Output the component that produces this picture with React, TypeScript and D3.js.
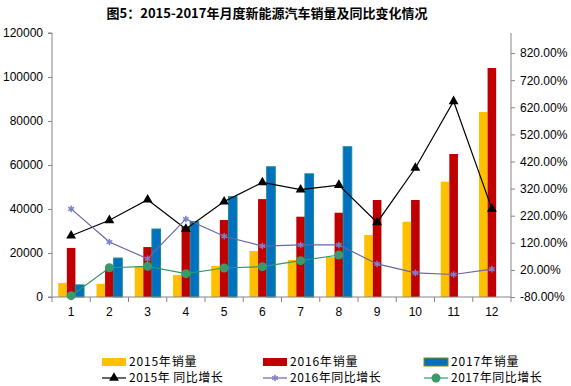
import React, { useEffect, useRef } from "react";
import * as d3 from "d3";

// monthly sales (vehicles)
const months = ["1", "2", "3", "4", "5", "6", "7", "8", "9", "10", "11", "12"];
const sales2015 = [6400, 6000, 14100, 10000, 14100, 20900, 16800, 18200, 28200, 34200, 52400, 84100];
const sales2016 = [22300, 14000, 22700, 32000, 35000, 44500, 36500, 38300, 44100, 44100, 65000, 104100];
const sales2017 = [5500, 17700, 30900, 34200, 45600, 59200, 56000, 68300];

// year-on-year growth (%)
const growth2015 = [146, 203, 279, 171, 272, 343, 316, 333, 195, 396, 642, 245];
const growth2016 = [245, 123, 61, 208, 144, 108, 112, 112, 42, 9, 3, 23];
const growth2017 = [-75, 28, 33, 6, 27, 32, 54, 75];

const leftTicks = [0, 20000, 40000, 60000, 80000, 100000, 120000];
const rightTicks = [-80, 20, 120, 220, 320, 420, 520, 620, 720, 820];

const title = "图5：2015-2017年月度新能源汽车销量及同比变化情况";

const App = () => {
  const svgRef = useRef<SVGSVGElement>(null);

  useEffect(() => {
    const width = 571;
    const height = 386;
    const left = 52;
    const right = 511;
    const top = 33;
    const bottom = 297;
    const numFont = "'Liberation Sans', Arial, sans-serif";
    const cjkFont = "'Noto Sans CJK SC', sans-serif";
    const axisColor = "#868686";

    const svg = d3.select(svgRef.current);
    svg.selectAll("*").remove();
    svg.attr("width", width).attr("height", height).style("background", "white");

    const x = d3.scaleBand().domain(months).range([left, right]);
    const y = d3.scaleLinear().domain([0, 120000]).range([bottom, top]);
    const y2 = d3.scaleLinear().domain([-80, 894]).range([bottom, top]);

    // title
    svg
      .append("text")
      .attr("x", 267)
      .attr("y", 18)
      .attr("text-anchor", "middle")
      .style("font-family", cjkFont)
      .style("font-weight", "bold")
      .style("font-size", "13px")
      .text(title);

    // bars
    const barW = 8.6;
    const series = [
      { data: sales2015, color: "#FFC000", stroke: "none", off: -1.5 },
      { data: sales2016, color: "#C00000", stroke: "none", off: -0.5 },
      { data: sales2017, color: "#0070C0", stroke: "#1A8A8A", off: 0.5 },
    ];
    series.forEach((s) => {
      svg
        .append("g")
        .selectAll("rect")
        .data(s.data)
        .join("rect")
        .attr("x", (d, i) => x(months[i])! + x.bandwidth() / 2 + s.off * barW)
        .attr("y", (d) => y(d))
        .attr("width", barW)
        .attr("height", (d) => bottom - y(d))
        .attr("fill", s.color)
        .attr("stroke", s.stroke)
        .attr("stroke-width", 1);
    });

    // axes
    const yAxis = svg
      .append("g")
      .attr("transform", `translate(${left},0)`)
      .style("font-family", numFont)
      .style("font-size", "12px")
      .call(d3.axisLeft(y).tickValues(leftTicks).tickSize(4).tickPadding(5).tickFormat(d3.format("d")));
    yAxis.selectAll("path, line").attr("stroke", axisColor);
    yAxis.select(".domain").attr("d", `M-4,${top}H0V${bottom}H-4`);

    const y2Axis = svg
      .append("g")
      .attr("transform", `translate(${right},0)`)
      .style("font-family", numFont)
      .style("font-size", "12px")
      .call(
        d3
          .axisRight(y2)
          .tickValues(rightTicks)
          .tickSize(4)
          .tickPadding(5)
          .tickFormat((d) => `${(+d).toFixed(2)}%`)
      );
    y2Axis.selectAll("path, line").attr("stroke", axisColor);
    y2Axis.select(".domain").attr("d", `M0,${top}V${bottom}`);

    const xAxis = svg.append("g").attr("transform", `translate(0,${bottom})`);
    xAxis
      .append("line")
      .attr("x1", left)
      .attr("x2", right)
      .attr("stroke", axisColor);
    xAxis
      .selectAll("line.tick")
      .data(d3.range(months.length + 1))
      .join("line")
      .attr("class", "tick")
      .attr("x1", (i) => left + i * x.step())
      .attr("x2", (i) => left + i * x.step())
      .attr("y1", 0)
      .attr("y2", 5)
      .attr("stroke", axisColor);
    xAxis
      .selectAll("text")
      .data(months)
      .join("text")
      .attr("x", (d) => x(d)! + x.bandwidth() / 2)
      .attr("y", 19)
      .attr("text-anchor", "middle")
      .style("font-family", numFont)
      .style("font-size", "12px")
      .text((d) => d);

    // lines
    const cx = (i: number) => x(months[i])! + x.bandwidth() / 2;
    const lineGen = d3
      .line<number>()
      .x((d, i) => cx(i))
      .y((d) => y2(d));

    const lines = [
      { data: growth2015, color: "#000000", marker: "tri" },
      { data: growth2016, color: "#6B66A6", marker: "star" },
      { data: growth2017, color: "#2E9A66", marker: "dot" },
    ];

    const drawMarker = (g: any, kind: string) => {
      if (kind === "tri") {
        g.append("path")
          .attr("d", d3.symbol(d3.symbolTriangle, 42)())
          .attr("fill", "#000");
      } else if (kind === "star") {
        g.append("path")
          .attr("d", d3.symbol(d3.symbolAsterisk, 30)())
          .attr("fill", "none")
          .attr("stroke", "#7F7FCC")
          .attr("stroke-width", 1.5);
      } else {
        g.append("circle").attr("r", 4.5).attr("fill", "#3A9A6C");
      }
    };

    lines.forEach((l) => {
      svg
        .append("path")
        .attr("d", lineGen(l.data))
        .attr("fill", "none")
        .attr("stroke", l.color)
        .attr("stroke-width", 1.2);
      l.data.forEach((d, i) => {
        const g = svg.append("g").attr("transform", `translate(${cx(i)},${y2(d)})`);
        drawMarker(g, l.marker);
      });
    });

    // legend
    const legendCols = [102, 263, 424];
    const barLegend = [
      { label: "2015年销量", color: "#FFC000", stroke: "none" },
      { label: "2016年销量", color: "#C00000", stroke: "none" },
      { label: "2017年销量", color: "#0070C0", stroke: "#8A8A00" },
    ];
    const lineLegend = [
      { label: "2015年 同比增长", color: "#000000", marker: "tri" },
      { label: "2016年同比增长", color: "#6B66A6", marker: "star" },
      { label: "2017年同比增长", color: "#2E9A66", marker: "dot" },
    ];
    barLegend.forEach((b, i) => {
      const g = svg.append("g").attr("transform", `translate(${legendCols[i]},362)`);
      g.append("rect")
        .attr("x", 0)
        .attr("y", -4)
        .attr("width", 24)
        .attr("height", 8)
        .attr("fill", b.color)
        .attr("stroke", b.stroke)
        .attr("stroke-width", 1);
      g.append("text")
        .attr("x", 27)
        .attr("y", 4)
        .style("font-family", cjkFont)
        .style("font-size", "12px")
        .style("letter-spacing", "0.8px")
        .text(b.label);
    });
    lineLegend.forEach((l, i) => {
      const g = svg.append("g").attr("transform", `translate(${legendCols[i]},378)`);
      g.append("line").attr("x1", 0).attr("x2", 24).attr("stroke", l.color).attr("stroke-width", 1.2);
      const m = g.append("g").attr("transform", "translate(12,0)");
      drawMarker(m, l.marker);
      g.append("text")
        .attr("x", 27)
        .attr("y", 4)
        .style("font-family", cjkFont)
        .style("font-size", "12px")
        .style("letter-spacing", "0.5px")
        .text(l.label);
    });
  }, []);

  return (
    <div style={{ position: "absolute", left: 0, top: 0 }}>
      <svg ref={svgRef} />
    </div>
  );
};

export default App;
